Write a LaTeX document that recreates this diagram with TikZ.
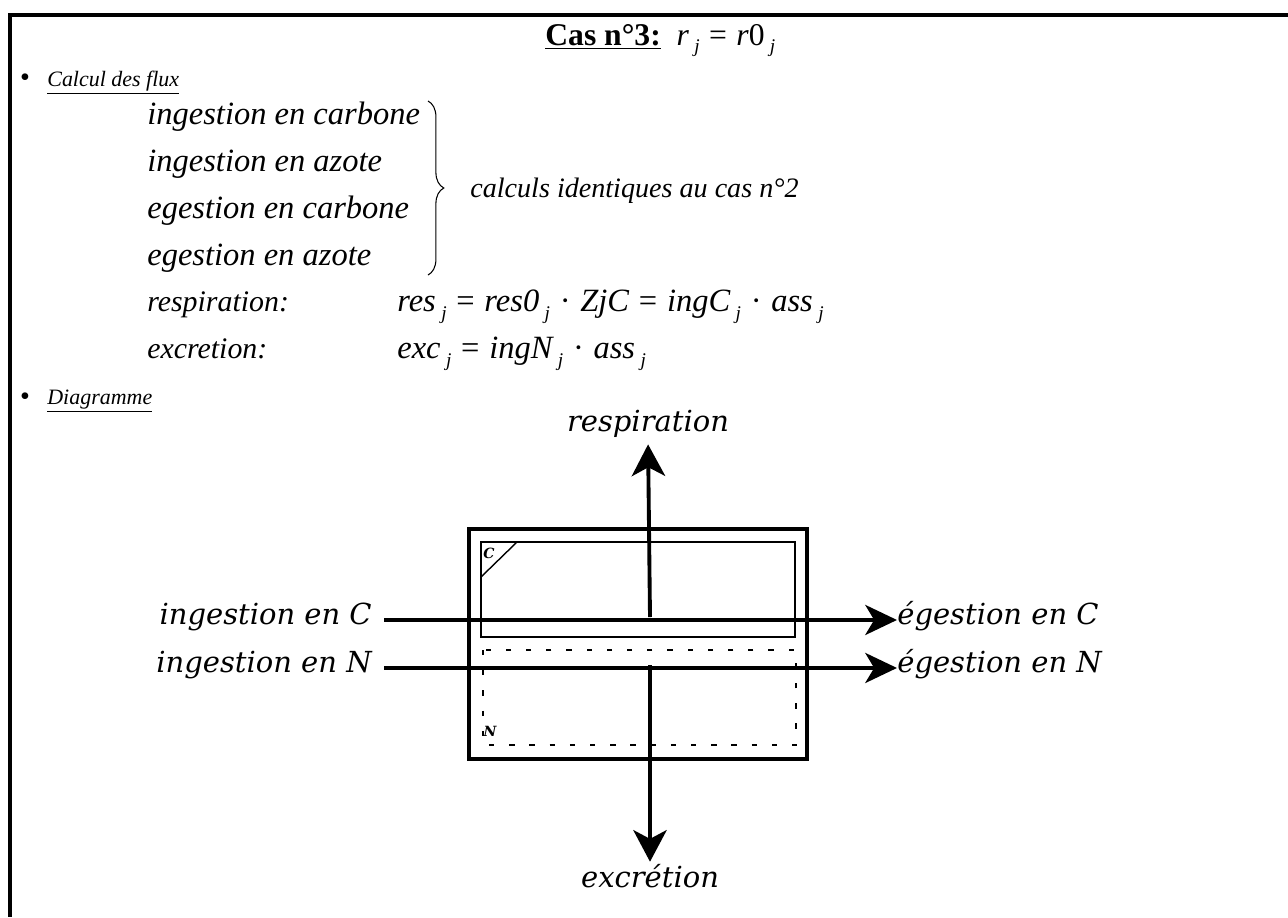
\documentclass[tikz,border=0pt]{standalone}
\usepackage{fontspec}
\setmainfont{Liberation Serif}
\newfontfamily\labfont{DejaVu Serif}
\usetikzlibrary{arrows.meta,calc,positioning,decorations.pathreplacing}

\newcommand{\ix}[1]{\,\raisebox{-.55ex}{\fontsize{11}{11}\selectfont\itshape #1}}
\newcommand{\eqs}{{\upshape\hspace{.3em}=\hspace{.3em}}}
\newcommand{\dotop}{{\upshape\hspace{.3em}·\hspace{.3em}}}

\begin{document}
\begin{tikzpicture}[x=0.02cm,y=-0.02cm,>=Stealth,
  txt/.style={anchor=base west,inner sep=0pt,font=\fontsize{18.5}{20}\selectfont\itshape},
  head/.style={anchor=base west,inner sep=0pt,font=\fontsize{12.5}{14}\selectfont\itshape},
  dot/.style={inner sep=0pt,font=\fontsize{16}{16}\selectfont},
  lab/.style={inner sep=0pt,font=\labfont\fontsize{16.5}{18}\selectfont\itshape},
  tag/.style={inner sep=0pt,font=\labfont\fontsize{8}{9}\selectfont\bfseries\itshape},
  flux/.style={line width=2.6pt,-{Stealth[length=18pt,width=17pt,inset=5pt]}},
  fluxv/.style={line width=2.2pt,-{Stealth[length=18pt,width=19pt,inset=5pt]}}]
  \useasboundingbox (0,0) rectangle (1288,917);
  \draw[line width=2.8pt] (1288,15) -- (10,15) -- (10,917);

  \node[anchor=base west,inner sep=0pt,font=\fontsize{18}{20}\selectfont] (title) at (545,45)
    {\textbf{\underline{Cas n°3:}}\enspace\textit{r}\ix{j}\eqs\textit{r}0\ix{j}};

  \node[dot] (b1) at (25,80) {\textbullet};
  \node[head] (calc) at (47,86) {\underline{Calcul des flux}};
  \foreach \y/\t [count=\i] in {124/ingestion en carbone,171/ingestion en azote,218/egestion en carbone,265/egestion en azote}
    {\node[txt] (flux\i) at (147,\y) {\t};}
  \draw[line width=0.6pt,decorate,decoration={brace,amplitude=9pt}] (428,101) -- (428,275);
  \node[txt,font=\fontsize{16}{18}\selectfont\itshape] (same) at (470,197) {calculs identiques au cas n°2};
  \node[txt,font=\fontsize{17}{18}\selectfont\itshape] (resp) at (147,311) {respiration:};
  \node[txt] (respeq) at (397,311) {res\ix{j}\eqs res0\ix{j}\dotop ZjC\eqs ingC\ix{j}\dotop ass\ix{j}};
  \node[txt,font=\fontsize{17}{18}\selectfont\itshape] (exc) at (147,358) {excretion:};
  \node[txt] (exceq) at (397,358) {exc\ix{j}\eqs ingN\ix{j}\dotop ass\ix{j}};
  \node[dot] (b2) at (25,399) {\textbullet};
  \node[head] (diag) at (47,404) {\underline{Diagramme}};

  \draw[line width=2.3pt] (469,529) rectangle (807,759);
  \draw[line width=0.9pt] (481,542) rectangle (795,637);
  \draw[line width=0.8pt] (481,577) -- (517,542);
  \draw[line width=0.9pt,dash pattern=on 3pt off 8.5pt] (483,650) rectangle (796,745);
  \node[tag] (tagC) at (489,553) {C};
  \node[tag] (tagN) at (490,731) {N};

  \node[lab,anchor=base east] (ingC) at (372,624) {ingestion en C};
  \node[lab,anchor=base east] (ingN) at (372,672) {ingestion en N};
  \node[lab,anchor=base west] (egC) at (897,624) {égestion en C};
  \node[lab,anchor=base west] (egN) at (897,672) {égestion en N};
  \node[lab,anchor=base] (respl) at (648,431) {respiration};
  \node[lab,anchor=base] (excl) at (650,887) {excrétion};
  \coordinate (cC) at (650,617);
  \coordinate (cN) at (650,665);

  \draw[flux,shorten <=7pt] (ingC.mid east) -- (egC.mid west);
  \draw[flux,shorten <=7pt] (ingN.mid east) -- (egN.mid west);
  \draw[fluxv,shorten >=4pt] (cC) -- (respl.south);
  \draw[fluxv,shorten >=1pt] (cN) -- (excl.north);
\end{tikzpicture}
\end{document}
